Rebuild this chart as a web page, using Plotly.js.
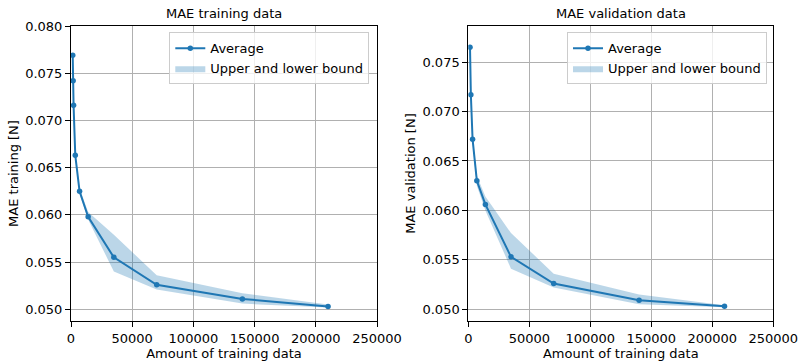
<!DOCTYPE html>
<html>
<head>
<meta charset="utf-8">
<script src="https://cdn.plot.ly/plotly-3.0.1.min.js"></script>
<style>html,body{margin:0;padding:0;background:#fff;}#chart{width:799px;height:362px;}</style>
</head>
<body>
<div id="chart"></div>
<script>
// Training data results
const trainSize  = [1400, 1750, 2100, 3500, 7000, 14000, 35000, 70000, 140000, 210000];
const trainAvg   = [0.0769, 0.0742, 0.0716, 0.0663, 0.0625, 0.0598, 0.0555, 0.0526, 0.0511, 0.0503];
const trainUpper = [0.0771, 0.0745, 0.0719, 0.0666, 0.0628, 0.0603, 0.0579, 0.0536, 0.0517, 0.0505];
const trainLower = [0.0767, 0.0739, 0.0713, 0.0660, 0.0622, 0.0595, 0.0540, 0.0521, 0.0506, 0.0502];

// Validation data results
const valSize  = [1400, 2100, 3500, 7000, 14000, 35000, 70000, 140000, 210000];
const valAvg   = [0.0765, 0.0717, 0.0672, 0.0630, 0.0606, 0.0553, 0.0526, 0.0509, 0.0503];
const valUpper = [0.0767, 0.0720, 0.0676, 0.0635, 0.0614, 0.0577, 0.0536, 0.0515, 0.0504];
const valLower = [0.0763, 0.0714, 0.0668, 0.0625, 0.0600, 0.0541, 0.0522, 0.0505, 0.0502];

const titles = ["MAE training data", "MAE validation data"];
const yTitles = ["MAE training [N]", "MAE validation [N]"];
const xTitle = "Amount of training data";
const names = ["Average", "Upper and lower bound"];

const W = 799, H = 362;
const blue = "#1f77b4";
const band = "rgba(31,119,180,0.3)";
const font = "DejaVu Sans, sans-serif";

function traces(x, avg, up, lo, xa, ya, leg) {
  return [
    {x: x, y: lo, xaxis: xa, yaxis: ya, mode: "lines", line: {width: 0, color: band},
     showlegend: false, hoverinfo: "skip", legend: leg},
    {x: x, y: up, xaxis: xa, yaxis: ya, mode: "lines", line: {width: 0, color: band},
     fill: "tonexty", fillcolor: band, name: names[1], legend: leg, legendrank: 2},
    {x: x, y: avg, xaxis: xa, yaxis: ya, mode: "lines+markers", line: {width: 2, color: blue},
     marker: {size: 5.5, color: blue}, name: names[0], legend: leg, legendrank: 1}
  ];
}

const data = [].concat(
  traces(trainSize, trainAvg, trainUpper, trainLower, "x", "y", "legend"),
  traces(valSize, valAvg, valUpper, valLower, "x2", "y2", "legend2")
);

const dom1 = [71 / W, 377 / W];
const dom2 = [468.3 / W, 773.3 / W];
const ydom = [1 - 321 / H, 1 - 26 / H];

function xaxis(dom, anchor) {
  return {
    domain: dom, anchor: anchor, range: [0, 250000], dtick: 50000, tick0: 0,
    tickformat: "d", showline: true, mirror: true, linecolor: "#000", linewidth: 1,
    ticks: "outside", ticklen: 5, tickcolor: "#000", tickwidth: 1,
    showgrid: true, gridcolor: "#b0b0b0", gridwidth: 1, zeroline: false,
    tickfont: {family: font, size: 13, color: "#000"},
    title: {text: xTitle, font: {family: font, size: 13, color: "#000"}, standoff: 4},
    automargin: false
  };
}
function yaxis(range, anchor, standoff) {
  return {
    domain: ydom, anchor: anchor, range: range, dtick: 0.005, tick0: 0.05,
    tickformat: ".3f", showline: true, mirror: true, linecolor: "#000", linewidth: 1,
    ticks: "outside", ticklen: 5, tickcolor: "#000", tickwidth: 1,
    showgrid: true, gridcolor: "#b0b0b0", gridwidth: 1, zeroline: false,
    tickfont: {family: font, size: 13, color: "#000"},
    title: {text: anchor === "x" ? yTitles[0] : yTitles[1], font: {family: font, size: 13, color: "#000"}, standoff: standoff},
    automargin: false
  };
}

function legend(right) {
  return {
    x: right / W, xanchor: "right", y: 1 - 32.3 / H, yanchor: "top",
    bgcolor: "rgba(255,255,255,0.8)", bordercolor: "#cccccc", borderwidth: 1,
    font: {family: font, size: 13, color: "#000"}, traceorder: "normal",
    itemwidth: 30
  };
}

const layout = {
  width: W, height: H, margin: {l: 0, r: 0, t: 0, b: 0},
  paper_bgcolor: "#fff", plot_bgcolor: "#fff", showlegend: true,
  font: {family: font, size: 13, color: "#000"},
  xaxis: xaxis(dom1, "y"),
  yaxis: yaxis([0.04876, 0.080], "x", 3),
  xaxis2: xaxis(dom2, "y2"),
  yaxis2: yaxis([0.04881, 0.07865], "x2", 3),
  legend: legend(369.3),
  legend2: legend(767),
  annotations: [
    {text: titles[0], xref: "paper", yref: "paper", x: (dom1[0] + dom1[1]) / 2, y: 1 - 13.3 / H,
     xanchor: "center", yanchor: "middle", showarrow: false, font: {family: font, size: 13, color: "#000"}},
    {text: titles[1], xref: "paper", yref: "paper", x: (dom2[0] + dom2[1]) / 2, y: 1 - 13.3 / H,
     xanchor: "center", yanchor: "middle", showarrow: false, font: {family: font, size: 13, color: "#000"}}
  ]
};

Plotly.newPlot("chart", data, layout, {displayModeBar: false, staticPlot: true});
</script>
</body>
</html>
